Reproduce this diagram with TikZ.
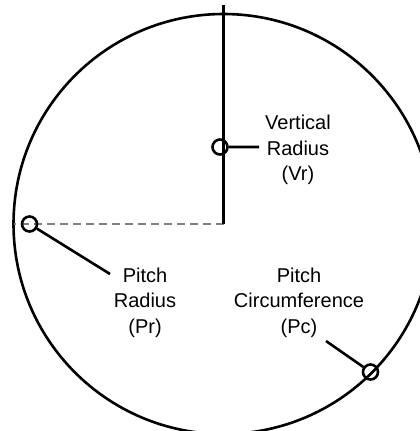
\documentclass[tikz,border=0pt]{standalone}
\usepackage{fontspec}
\setmainfont{Liberation Sans}
\tikzset{lead/.style={line width=2.6pt},
 hid/.style={draw=gray,line width=2.6pt,dash pattern=on 8pt off 5pt},
 ring/.style={draw,circle,line width=2.6pt,minimum size=15pt,inner sep=0pt},
 lbl/.style={align=center,font=\fontsize{20}{25.5}\selectfont}}

\begin{document}
\begin{tikzpicture}[x=1pt,y=-1pt]
\useasboundingbox (0,0) rectangle (420,431);
\coordinate (c) at (223.5,224);
\coordinate (top) at (223.5,5);
\coordinate (w) at (13.5,224);
\draw[lead] (c) circle (210pt);
\draw[hid] (c)--(w);
\draw[lead] (top)--(c);
\node[ring](vr) at (220,147){};
\node[ring](pr) at (29.5,224){};
\node[ring](pc) at (370.5,372){};
\node[lbl](vt) at (298,150){Vertical\\Radius\\(Vr)};
\node[lbl](pt) at (145,302.5){Pitch\\Radius\\(Pr)};
\node[lbl](ct) at (299,302.5){Pitch\\Circumference\\(Pc)};
\coordinate (vre) at (259,147);
\coordinate (pre) at (110,274);
\coordinate (pce) at (326,341);
\draw[lead](vr)--(vre)(pr)--(pre)(pce)--(pc);
\end{tikzpicture}
\end{document}
